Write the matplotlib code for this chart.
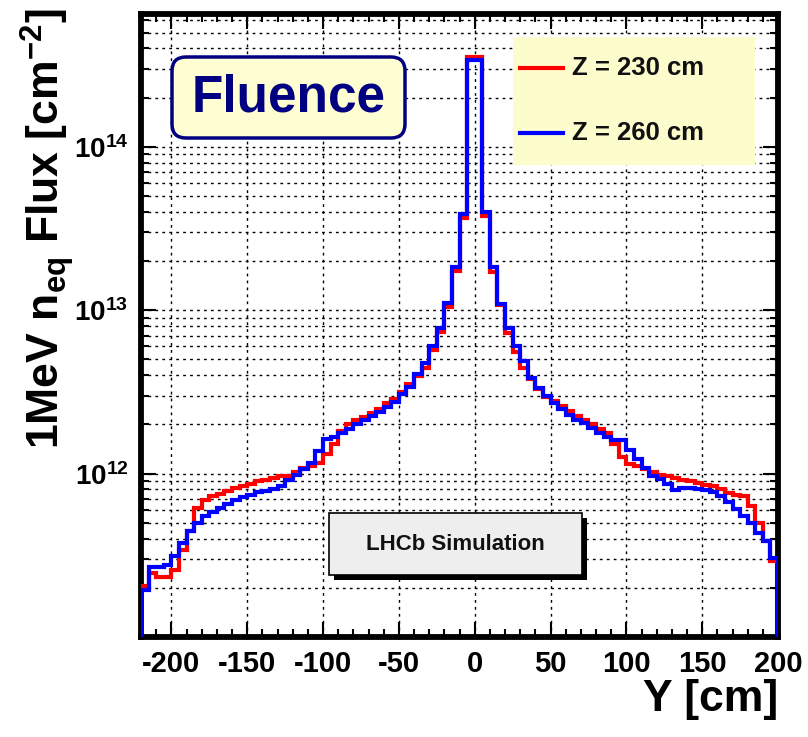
import matplotlib
matplotlib.use("Agg")
import numpy as np
import matplotlib.pyplot as plt
from matplotlib.patches import FancyBboxPatch, Rectangle
from matplotlib.lines import Line2D
from matplotlib.transforms import IdentityTransform
from matplotlib.ticker import LogLocator, MultipleLocator, FuncFormatter, NullFormatter

plt.rcParams['font.family'] = ['Liberation Sans', 'DejaVu Sans']
plt.rcParams['font.weight'] = 'bold'
plt.rcParams['axes.unicode_minus'] = False
plt.rcParams['mathtext.fontset'] = 'custom'
for key in ('rm', 'it', 'bf', 'sf'):
    plt.rcParams['mathtext.' + key] = 'Liberation Sans:bold'

# Histogram binning along Y [cm]
y_low, y_high, bin_width = -220, 200, 5

# 1 MeV neq fluence per bin, in units of 1e12 cm^-2
flux_z230 = [
    0.206, 0.248, 0.234, 0.234, 0.258, 0.342, 0.443, 0.615, 0.686, 0.726,
    0.753, 0.787, 0.817, 0.843, 0.869, 0.897, 0.918, 0.940, 0.962, 0.971,
    1.02, 1.08, 1.12, 1.16,
    1.31, 1.51, 1.83, 2.00, 2.12, 2.23, 2.36, 2.49, 2.69, 2.87,
    3.17, 3.56, 3.95, 4.45, 5.70, 7.36, 10.5, 17.3, 36.8,
    353.0, 353.0,
    37.6, 17.2, 10.7, 7.29, 5.55, 4.45, 3.80, 3.31, 2.95, 2.77,
    2.59, 2.40, 2.25, 2.12, 2.00, 1.88, 1.78, 1.51, 1.27, 1.14,
    1.12, 1.07, 1.03, 0.986, 0.962, 0.940, 0.918, 0.897, 0.877, 0.857,
    0.836, 0.805, 0.760, 0.743, 0.733, 0.637, 0.498, 0.385, 0.290,
]
flux_z260 = [
    0.194, 0.268, 0.270, 0.277, 0.311, 0.376, 0.443, 0.498, 0.547, 0.579,
    0.615, 0.655, 0.686, 0.719, 0.743, 0.767, 0.787, 0.805, 0.843, 0.910,
    0.986, 1.06, 1.16, 1.37,
    1.62, 1.68, 1.78, 1.88, 2.00, 2.12, 2.25, 2.39, 2.56, 2.75,
    3.05, 3.40, 4.05, 4.73, 6.04, 7.76, 11.0, 18.3, 38.8,
    339.0, 339.0,
    39.7, 18.3, 10.9, 7.83, 6.04, 4.89, 3.86, 3.36, 2.98, 2.69,
    2.49, 2.30, 2.14, 2.03, 1.91, 1.78, 1.68, 1.60, 1.60, 1.40,
    1.22, 1.08, 0.962, 0.927, 0.869, 0.791, 0.817, 0.817, 0.805, 0.791,
    0.767, 0.733, 0.667, 0.607, 0.552, 0.498, 0.433, 0.385, 0.304,
]
series_labels = ['Z = 230 cm', 'Z = 260 cm']
series_colors = ['#ff0000', '#0000ff']

x_ticks = [-200, -150, -100, -50, 0, 50, 100, 150, 200]
y_min, y_max = 1e11, 6.5e14
labelled_decades = [12, 13, 14]

W, H = 808, 737
fig = plt.figure(figsize=(W / 100, H / 100), dpi=100)
ax = fig.add_axes([141 / W, 1 - 637 / H, 637 / W, 623 / H])

edges = np.arange(y_low, y_high + bin_width, bin_width)
for vals, col in zip([flux_z230, flux_z260], series_colors):
    ax.stairs(np.array(vals) * 1e12, edges, baseline=y_min,
              color=col, linewidth=3.0, zorder=3)

ax.set_yscale('log')
ax.set_xlim(y_low, y_high)
ax.set_ylim(y_min, y_max)


def decade_label(v, pos):
    e = int(round(np.log10(v)))
    return r'$\mathbf{10^{%d}}$' % e if e in labelled_decades else ''


ax.xaxis.set_major_locator(plt.FixedLocator(x_ticks))
ax.xaxis.set_minor_locator(MultipleLocator(10))
ax.yaxis.set_major_locator(LogLocator(base=10, numticks=10))
ax.yaxis.set_minor_locator(LogLocator(base=10, subs=np.arange(2, 10), numticks=20))
ax.yaxis.set_major_formatter(FuncFormatter(decade_label))
ax.yaxis.set_minor_formatter(NullFormatter())

ax.tick_params(which='both', direction='in', top=True, right=True, width=1.5)
ax.tick_params(which='major', length=11)
ax.tick_params(which='minor', length=5.5)
ax.tick_params(axis='x', which='major', labelsize=21, pad=9)
ax.tick_params(axis='y', which='major', labelsize=20, pad=9)

grid_style = dict(color='black', linestyle=(0, (2.0, 3.0)), linewidth=1.0)
ax.grid(True, which='major', axis='x', **grid_style)
ax.grid(True, which='both', axis='y', **grid_style)

for sp in ax.spines.values():
    sp.set_linewidth(4.2)

# Axis titles
fig.text(47 / W, 1 - 8 / H, r'1MeV n$_{\mathbf{eq}}$ Flux [cm$^{\mathbf{-2}}$]',
         rotation=90, ha='center', va='top', fontsize=32, fontweight='bold')
fig.text(778 / W, 1 - 700 / H, 'Y [cm]', ha='right', va='center',
         fontsize=32, fontweight='bold')

px = IdentityTransform()

# "Fluence" banner
banner = FancyBboxPatch((172, H - 138), 233, 81,
                        boxstyle='round,pad=0,rounding_size=14',
                        transform=px, facecolor='#fefed2',
                        edgecolor='#000080', linewidth=2.5, zorder=5)
fig.add_artist(banner)
fig.text(288.5 / W, 1 - 98 / H, 'Fluence', ha='center', va='center',
         fontsize=37, fontweight='bold', color='#000080', zorder=6)

# Legend panel
fig.add_artist(Rectangle((513, H - 165), 242, 128, transform=px,
                         facecolor='#fcfccc', edgecolor='none', zorder=5))
for lab, col, yy in zip(series_labels, series_colors, [68, 133]):
    fig.add_artist(Line2D([520, 563], [H - yy, H - yy], transform=px,
                          color=col, linewidth=3.0, zorder=6))
    fig.text(572 / W, 1 - yy / H, lab, ha='left', va='center',
             fontsize=18.5, fontweight='bold', color='#111111', zorder=6)

# Simulation tag with drop shadow
fig.add_artist(Rectangle((334, H - 580), 253, 62, transform=px,
                         facecolor='black', edgecolor='none', zorder=5))
fig.add_artist(Rectangle((329, H - 575), 253, 62, transform=px,
                         facecolor='#eeeeee', edgecolor='black',
                         linewidth=1.2, zorder=6))
fig.text(455 / W, 1 - 544 / H, 'LHCb Simulation', ha='center', va='center',
         fontsize=16, fontweight='bold', color='#111111', zorder=7)

fig.savefig('out.png', dpi=100)
